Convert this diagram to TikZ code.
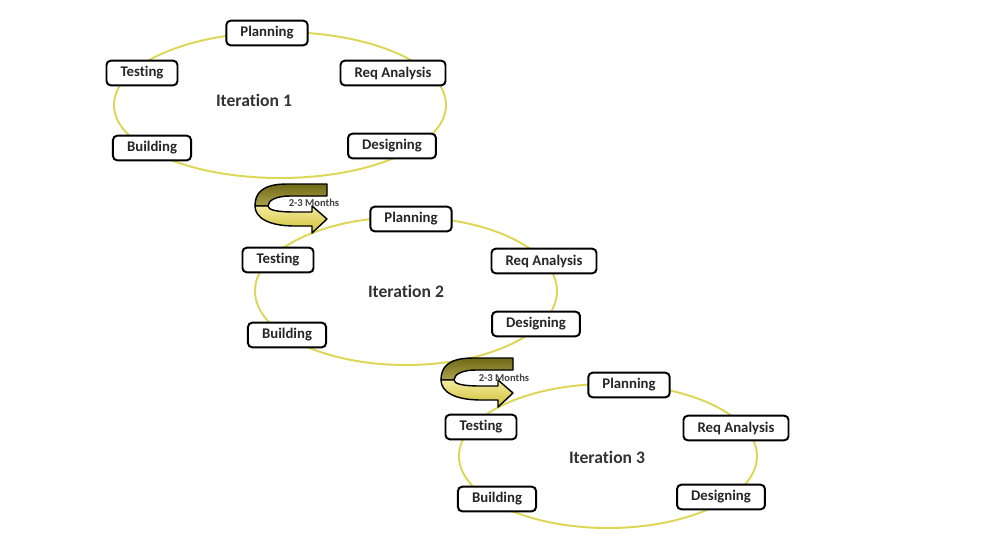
\documentclass[tikz,border=0pt]{standalone}
\usepackage{fontspec}
\setmainfont{Carlito}[Ligatures=NoCommon]
\usetikzlibrary{shapes,arrows}
\definecolor{ringyellow}{RGB}{222,214,86}
\definecolor{bandback}{RGB}{150,140,30}
\definecolor{bandfront}{RGB}{232,214,60}

\begin{document}
\begin{tikzpicture}[x=0.025cm, y=-0.025cm]
		\tikzstyle {phase} = [draw=black, line width=1.4pt, rounded corners=3pt, fill=white, font=\bfseries\fontsize{10.5}{12}\selectfont, text=black!85, inner xsep=10pt, minimum height=17.5pt]
		\tikzstyle {ring} = [draw=ringyellow, line width=1.4pt]
		\tikzstyle {iter} = [font=\bfseries\fontsize{12.5}{14}\selectfont, text=black!80]
		\tikzstyle {months} = [font=\bfseries\fontsize{7.5}{8}\selectfont, text=black!75, inner sep=0pt]
		\tikzstyle {band} = [draw=black, line width=1pt, line join=round]

		\useasboundingbox (0,0) rectangle (1005,535);

		% iteration 1
		\draw[ring] (280,105) ellipse [x radius=166, y radius=73];
		\node[iter] (it1) at (254,100) {Iteration 1};
		\node[phase] (plan1) at (267,33) {Planning};
		\node[phase] (req1) at (393,73) {Req Analysis};
		\node[phase] (design1) at (392,146) {Designing};
		\node[phase] (build1) at (152,148) {Building};
		\node[phase] (test1) at (142,73) {Testing};

		% iteration 2
		\draw[ring] (406,291) ellipse [x radius=151, y radius=74];
		\node[iter] (it2) at (406,291) {Iteration 2};
		\node[phase] (plan2) at (411,219) {Planning};
		\node[phase] (req2) at (544,261) {Req Analysis};
		\node[phase] (design2) at (536,324) {Designing};
		\node[phase] (build2) at (287,335) {Building};
		\node[phase] (test2) at (278,260) {Testing};

		% iteration 3
		\draw[ring] (608,456) ellipse [x radius=149, y radius=72];
		\node[iter] (it3) at (607,457) {Iteration 3};
		\node[phase] (plan3) at (629,385) {Planning};
		\node[phase] (req3) at (736,428) {Req Analysis};
		\node[phase] (design3) at (721,497) {Designing};
		\node[phase] (build3) at (497,499) {Building};
		\node[phase] (test3) at (481,427) {Testing};

		% turn arrow 1 -> 2
		\begin{scope}[shift={(255,184)}]
		\filldraw[band, top color=bandback!75!black, bottom color=bandback!80!white] (72,0) -- (32,0) .. controls (6,0) and (0,10) .. (0,22) -- (13,22) .. controls (13,16) and (22,12) .. (35,12) -- (72,12) -- cycle;
		\filldraw[band, top color=bandfront!50!white, bottom color=bandfront!90!black] (0,22) .. controls (0,34) and (14,42) .. (40,42) -- (57,42) -- (57,49) -- (72,35) -- (57,22) -- (57,28) -- (40,28) .. controls (22,28) and (13,26) .. (13,22) -- cycle;
		\node[months] (gap1) at (59,19) {2-3 Months};
		\end{scope}

		% turn arrow 2 -> 3
		\begin{scope}[shift={(441,358)}]
		\filldraw[band, top color=bandback!75!black, bottom color=bandback!80!white] (72,0) -- (32,0) .. controls (6,0) and (0,10) .. (0,22) -- (13,22) .. controls (13,16) and (22,12) .. (35,12) -- (72,12) -- cycle;
		\filldraw[band, top color=bandfront!50!white, bottom color=bandfront!90!black] (0,22) .. controls (0,34) and (14,42) .. (40,42) -- (57,42) -- (57,49) -- (72,35) -- (57,22) -- (57,28) -- (40,28) .. controls (22,28) and (13,26) .. (13,22) -- cycle;
		\node[months] (gap2) at (63,20) {2-3 Months};
		\end{scope}
	\end{tikzpicture}
\end{document}
